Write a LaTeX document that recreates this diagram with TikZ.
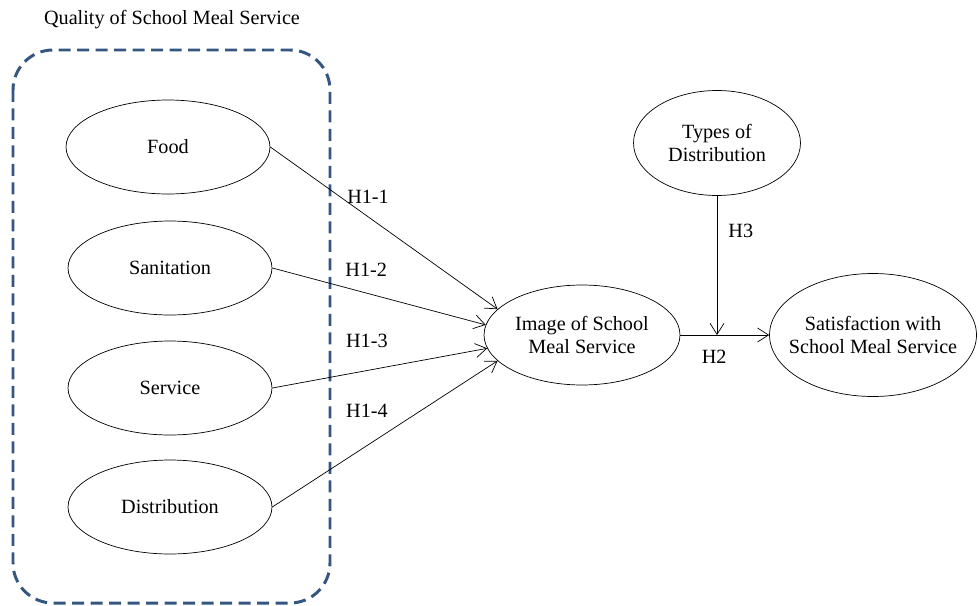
\documentclass[tikz,border=0pt]{standalone}
\usepackage{fontspec}
\setmainfont{Liberation Serif}
\usepackage{tikz}
\usetikzlibrary{arrows.meta,positioning,shapes.geometric}

\definecolor{groupblue}{RGB}{52,86,128}

\begin{document}
\begin{tikzpicture}[
  x=0.02cm, y=-0.02cm,
  every node/.style={font=\fontsize{11.5}{13.5}\selectfont},
  oval/.style={draw, ellipse, thin, inner sep=1pt, align=center},
  arr/.style={-{Straight Barb[length=2.2mm, width=2.8mm]}, thin},
  groupbox/.style={draw=groupblue, line width=1.7pt, rounded corners=0.8cm,
                   dash pattern=on 0.24cm off 0.13cm}
]
  \useasboundingbox (0,0) rectangle (979,605);

  % group of quality factors
  \node (title) at (172,20) {Quality of School Meal Service};
  \draw[groupbox] (13,50) rectangle (330,603);

  \node[oval, minimum width=4.08cm, minimum height=1.88cm] (food) at (168,147) {Food};
  \node[oval, minimum width=4.08cm, minimum height=1.88cm] (sanit) at (170,268) {Sanitation};
  \node[oval, minimum width=4.08cm, minimum height=1.88cm] (serv) at (170,388) {Service};
  \node[oval, minimum width=4.08cm, minimum height=1.88cm] (distr) at (170,507) {Distribution};

  \node[oval, minimum width=3.92cm, minimum height=2cm] (image) at (582,335) {Image of School\\Meal Service};
  \node[oval, minimum width=3.34cm, minimum height=2.1cm] (types) at (717,143) {Types of\\Distribution};
  \node[oval, inner xsep=-0.26cm, minimum width=4.14cm, minimum height=2.46cm] (satis) at (873,335) {Satisfaction with\\School Meal Service};
  \coordinate (join) at (717,335);

  \draw[arr] (food.east) -- node[pos=0.43, yshift=0.39cm]{H1-1} (image.163);
  \draw[arr] (sanit.east) -- node[pos=0.44, yshift=0.47cm]{H1-2} (image.174);
  \draw[arr] (serv.east) -- node[pos=0.44, yshift=0.6cm]{H1-3} (image.188);
  \draw[arr] (distr.east) -- node[pos=0.42, yshift=0.69cm]{H1-4} (image.197);

  \draw[arr] (image.east) -- node[pos=0.38, below=5pt]{H2} (satis.west);
  \draw[arr] (types.south) -- node[pos=0.25, right=3pt]{H3} (join);
\end{tikzpicture}
\end{document}
